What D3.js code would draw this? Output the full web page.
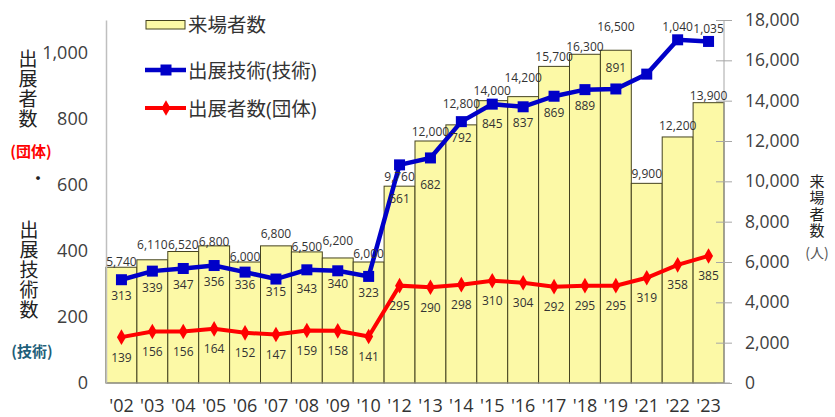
<!DOCTYPE html>
<html>
<head>
<meta charset="utf-8">
<script src="https://cdn.jsdelivr.net/npm/d3@7"></script>
<style>
  body { margin: 0; background: #fff; }
  svg { display: block; }
  text { font-family: "Open Sans", "Noto Sans CJK JP", sans-serif; }
  .jp { font-family: "Noto Sans CJK JP", sans-serif; }
  .vertical { writing-mode: vertical-rl; text-orientation: upright; }
</style>
</head>
<body>
<div id="chart"></div>
<script>
// data
const years = ["'02", "'03", "'04", "'05", "'06", "'07", "'08", "'09", "'10", "'12",
  "'13", "'14", "'15", "'16", "'17", "'18", "'19", "'21", "'22", "'23"];
const visitors = [5740, 6110, 6520, 6800, 6000, 6800, 6500, 6200, 6000, 9760,
  12000, 12800, 14000, 14200, 15700, 16300, 16500, 9900, 12200, 13900];
const technologies = [313, 339, 347, 356, 336, 315, 343, 340, 323, 661,
  682, 792, 845, 837, 869, 889, 891, 936, 1040, 1035];
const exhibitors = [139, 156, 156, 164, 152, 147, 159, 158, 141, 295,
  290, 298, 310, 304, 292, 295, 295, 319, 358, 385];
const leftTicks = [0, 200, 400, 600, 800, 1000];
const rightTicks = [0, 2000, 4000, 6000, 8000, 10000, 12000, 14000, 16000, 18000];

// label placement tweaks (distance of label centre from its mark)
const barLabelLift = { "'02": 6, "'03": 15, "'04": 7.5, "'05": 4, "'06": 5.5, "'07": 12.5,
  "'08": 5, "'09": 17, "'10": 8.5, "'14": 21, "'16": 19, "'18": 7.5, "'19": 23.5, "'22": 11, "'23": 7 };
const techLabelDrop = { "'06": 12, "'07": 12, "'08": 19, "'09": 13, "'12": 34, "'13": 27,
  "'15": 19, "'19": -21, "'21": null, "'22": -13, "'23": -13 };

const W = 835, H = 417;
const plot = { left: 106, right: 724, top: 20, bottom: 383 };
const BAR_FILL = "#fcf9a6", BAR_STROKE = "#45431f";
const BLUE = "#0000c8", RED = "#ff0000", TEXT = "#333";

const svg = d3.select("#chart").append("svg").attr("width", W).attr("height", H);

const x = d3.scaleBand().domain(years).range([plot.left, plot.right]).padding(0);
const yL = d3.scaleLinear().domain([0, 1100]).range([plot.bottom, plot.top]);
const yR = d3.scaleLinear().domain([0, 18000]).range([plot.bottom, plot.top]);
const cx = (d) => x(d) + x.bandwidth() / 2;

// bars
svg.append("g")
  .selectAll("rect")
  .data(years)
  .join("rect")
  .attr("x", (d) => x(d))
  .attr("y", (d, i) => yR(visitors[i]))
  .attr("width", x.bandwidth())
  .attr("height", (d, i) => plot.bottom - yR(visitors[i]))
  .attr("fill", BAR_FILL)
  .attr("stroke", BAR_STROKE)
  .attr("stroke-width", 1);

// axes
const leftAxis = svg.append("g")
  .attr("transform", `translate(${plot.left},0)`)
  .call(d3.axisLeft(yL).tickValues(leftTicks).tickSize(0).tickPadding(18).tickFormat(d3.format(",")));
leftAxis.select(".domain").attr("stroke", "#bfbfbf").attr("stroke-width", 1.5);
leftAxis.selectAll("text").attr("font-size", 18).attr("fill", "#404040");

const rightAxis = svg.append("g")
  .attr("transform", `translate(${plot.right},0)`)
  .call(d3.axisRight(yR).tickValues(rightTicks).tickSize(8).tickPadding(13).tickFormat(d3.format(",")));
rightAxis.select(".domain").attr("stroke", "#a6a6a6").attr("d", `M0,${plot.top}V${plot.bottom}`);
rightAxis.selectAll(".tick line").attr("x1", -8).attr("stroke", "#a6a6a6");
rightAxis.selectAll("text").attr("font-size", 17.5).attr("fill", "#404040");

const bottomAxis = svg.append("g")
  .attr("transform", `translate(0,${plot.bottom})`)
  .call(d3.axisBottom(x).tickSize(0).tickPadding(16));
bottomAxis.select(".domain").attr("stroke", "#a6a6a6").attr("d", `M${plot.left},0H${plot.right + 6}`);
bottomAxis.selectAll("text").attr("font-size", 18).attr("fill", "#333");

// lines
const line = (scale, values) => d3.line()
  .x((d) => cx(d))
  .y((d, i) => scale(values[i]));

svg.append("path")
  .datum(years)
  .attr("fill", "none")
  .attr("stroke", RED)
  .attr("stroke-width", 4)
  .attr("d", line(yL, exhibitors));
svg.append("g")
  .selectAll("path")
  .data(years)
  .join("path")
  .attr("d", d3.symbol(d3.symbolDiamond, 70))
  .attr("transform", (d, i) => `translate(${cx(d)},${yL(exhibitors[i])})`)
  .attr("fill", RED);

svg.append("path")
  .datum(years)
  .attr("fill", "none")
  .attr("stroke", BLUE)
  .attr("stroke-width", 4.5)
  .attr("d", line(yL, technologies));
svg.append("g")
  .selectAll("rect")
  .data(years)
  .join("rect")
  .attr("x", (d) => cx(d) - 5.5)
  .attr("y", (d, i) => yL(technologies[i]) - 5.5)
  .attr("width", 11)
  .attr("height", 11)
  .attr("fill", BLUE);

// data labels
const labelLayer = svg.append("g")
  .attr("font-size", 12)
  .attr("fill", TEXT)
  .attr("text-anchor", "middle")
  .attr("dominant-baseline", "central");

labelLayer.selectAll("text.bar-label")
  .data(years)
  .join("text")
  .attr("class", "bar-label")
  .attr("x", cx)
  .attr("y", (d, i) => yR(visitors[i]) - (barLabelLift[d] ?? 10))
  .text((d, i) => d3.format(",")(visitors[i]));

labelLayer.selectAll("text.tech-label")
  .data(years.filter((d) => techLabelDrop[d] !== null))
  .join("text")
  .attr("class", "tech-label")
  .attr("x", cx)
  .attr("y", (d) => yL(technologies[years.indexOf(d)]) + (techLabelDrop[d] ?? 16))
  .text((d) => d3.format(",")(technologies[years.indexOf(d)]));

labelLayer.selectAll("text.org-label")
  .data(years)
  .join("text")
  .attr("class", "org-label")
  .attr("x", cx)
  .attr("y", (d, i) => yL(exhibitors[i]) + 20)
  .text((d, i) => exhibitors[i]);

// legend
const legend = svg.append("g").attr("class", "jp").attr("font-size", 19.5).attr("fill", TEXT);
legend.append("rect")
  .attr("x", 146).attr("y", 20.5).attr("width", 39).attr("height", 8.5)
  .attr("fill", BAR_FILL).attr("stroke", BAR_STROKE);
legend.append("line")
  .attr("x1", 145).attr("x2", 186).attr("y1", 70).attr("y2", 70)
  .attr("stroke", BLUE).attr("stroke-width", 4.5);
legend.append("rect")
  .attr("x", 160.5).attr("y", 64.5).attr("width", 11).attr("height", 11).attr("fill", BLUE);
legend.append("line")
  .attr("x1", 145).attr("x2", 186).attr("y1", 108).attr("y2", 108)
  .attr("stroke", RED).attr("stroke-width", 4);
legend.append("path")
  .attr("d", d3.symbol(d3.symbolDiamond, 70))
  .attr("transform", "translate(166,108)")
  .attr("fill", RED);
[["来場者数", 24], ["出展技術(技術)", 70], ["出展者数(団体)", 108]].forEach(([label, y]) => {
  legend.append("text")
    .attr("x", 188).attr("y", y)
    .attr("dominant-baseline", "central")
    .text(label);
});

// axis titles: vertical text runs plus small horizontal notes
function verticalTitle(label, xPos, top, size, gap, fill) {
  svg.append("text")
    .attr("class", "jp vertical")
    .attr("x", xPos)
    .attr("y", top)
    .attr("font-size", size)
    .attr("letter-spacing", gap)
    .attr("fill", fill)
    .text(label);
}
function note(label, xPos, y, size, fill, weight) {
  svg.append("text")
    .attr("class", "jp")
    .attr("x", xPos)
    .attr("y", y)
    .attr("font-size", size)
    .attr("font-weight", weight || "normal")
    .attr("fill", fill)
    .attr("text-anchor", "middle")
    .attr("dominant-baseline", "central")
    .text(label);
}
verticalTitle("出展者数", 28, 49.5, 19, 1, "#222");
note("(団体)", 31, 150, 15, "#ff0000", "bold");
note("・", 38, 177, 18, "#222");
verticalTitle("出展技術数", 29, 220.5, 19, 1, "#222");
note("(技術)", 32, 350, 15, "#1f5f7a", "bold");
verticalTitle("来場者数", 817, 173.5, 15, 1.5, "#222");
note("(人)", 817, 252, 14, "#555");
</script>
</body>
</html>
